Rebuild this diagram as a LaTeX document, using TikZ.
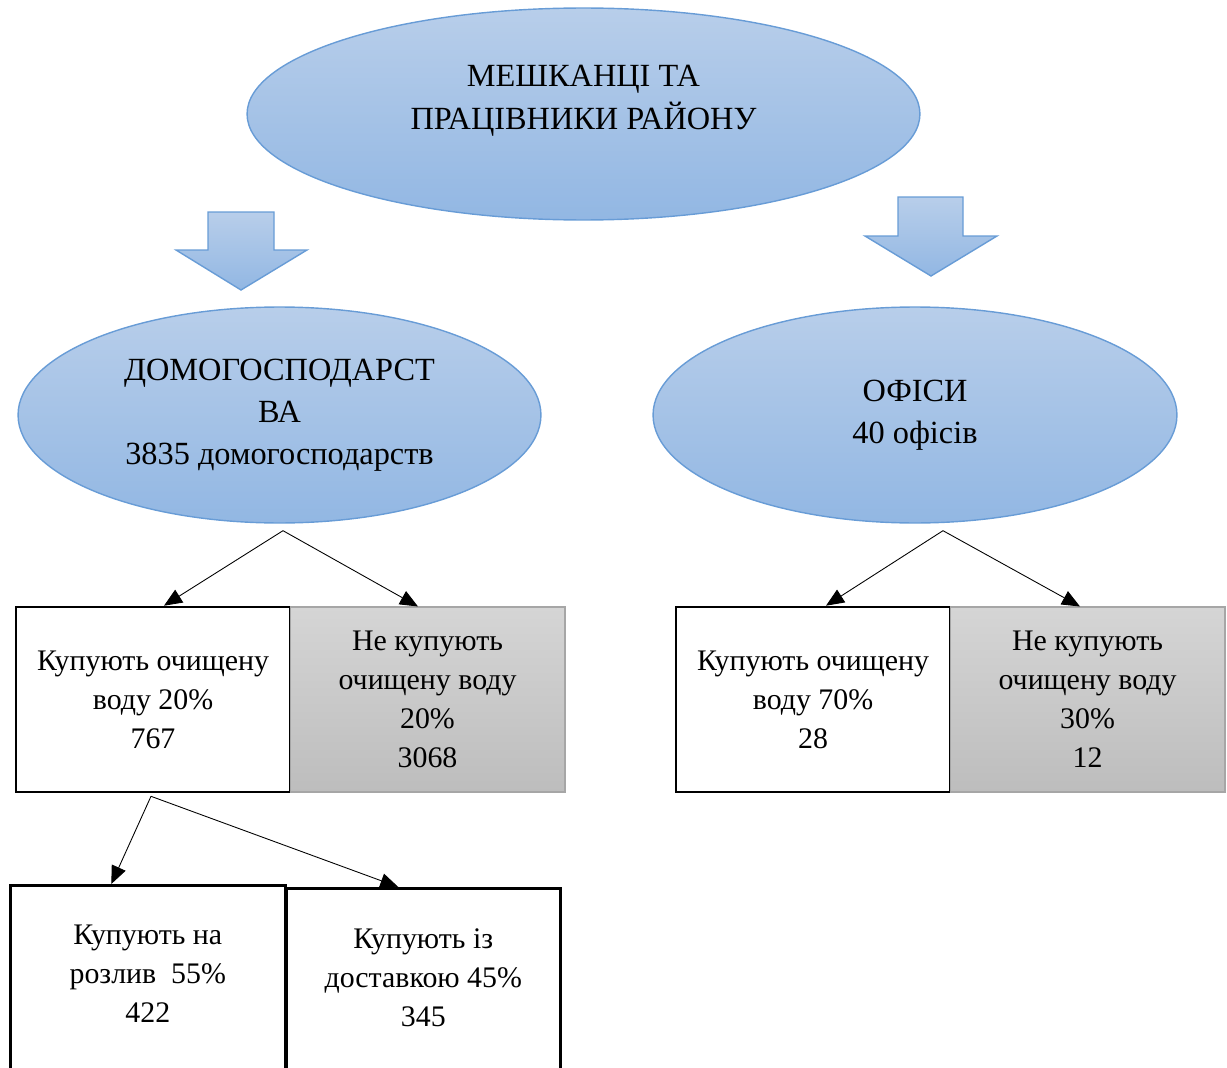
\documentclass[tikz,border=0pt]{standalone}
\usepackage{fontspec}
\setmainfont{Liberation Serif}
\usetikzlibrary{shapes.geometric,arrows.meta}
\definecolor{skytop}{RGB}{184,206,234}
\definecolor{skybot}{RGB}{146,183,227}
\definecolor{skyline}{RGB}{104,156,214}
\definecolor{greytop}{RGB}{213,213,213}
\definecolor{greybot}{RGB}{189,189,189}
\definecolor{greyline}{RGB}{166,166,166}

\begin{document}
\begin{tikzpicture}[x=0.02cm, y=-0.02cm,
    every node/.style={font=\fontsize{17}{22.2}\selectfont, align=center},
    oval/.style={ellipse, draw=skyline, line width=0.8pt, top color=skytop, bottom color=skybot, inner sep=0pt, font=\fontsize{18.4}{24}\selectfont},
    buybox/.style={rectangle, draw=black, line width=1.5pt, fill=white, minimum width=5.48cm, minimum height=3.7cm},
    nobox/.style={rectangle, draw=greyline, line width=0.6pt, top color=greytop, bottom color=greybot, minimum width=5.5cm, minimum height=3.7cm},
    blockarr/.style={draw=skyline, line width=0.8pt, top color=skytop, bottom color=skybot},
    arr/.style={line width=0.5pt, -{Triangle[length=0.36cm, width=0.3cm]}}]
    \path[use as bounding box, clip] (0,0) rectangle (1227,1068);

    \node[oval, minimum width=13.46cm, minimum height=4.24cm, text depth=18.9pt] (top) at (583.5,114) {МЕШКАНЦІ ТА\\ПРАЦІВНИКИ РАЙОНУ};
    \node[oval, minimum width=10.46cm, minimum height=4.32cm] (hh) at (279.5,415) {ДОМОГОСПОДАРСТ\\ВА\\3835 домогосподарств};
    \node[oval, minimum width=10.48cm, minimum height=4.32cm] (off) at (915,415) {ОФІСИ\\40 офісів};

    \draw[blockarr] (208,212) -- (274,212) -- (274,250) -- (307,250) -- (241,290) -- (176,250) -- (208,250) -- cycle;
    \draw[blockarr] (898,197) -- (963,197) -- (963,236) -- (997,236) -- (931,276) -- (865,236) -- (898,236) -- cycle;

    \node[buybox] (buy1) at (153,699.5) {Купують очищену\\воду 20\%\\767};
    \node[nobox] (nobuy1) at (427.5,699.5) {Не купують\\очищену воду\\20\%\\3068};
    \node[buybox] (buy2) at (813,699.5) {Купують очищену\\воду 70\%\\28};
    \node[nobox] (nobuy2) at (1087.5,699.5) {Не купують\\очищену воду\\30\%\\12};

    \node[buybox, anchor=north west, minimum width=5.5cm, minimum height=3.92cm, text depth=11.4pt] (tap) at (9,884) {Купують на\\розлив\ \ 55\%\\422};
    \node[buybox, anchor=north west, minimum height=3.86cm, text depth=8.4pt] (deliv) at (285,887) {Купують із\\доставкою 45\%\\345};

    \coordinate (hhfork) at ([xshift=0.07cm, yshift=-0.14cm]hh.south);
    \draw[arr] (hhfork) -- ([xshift=0.22cm]buy1.north);
    \draw[arr] (hhfork) -- ([xshift=-0.19cm]nobuy1.north);

    \coordinate (offfork) at ([xshift=0.56cm, yshift=-0.14cm]off.south);
    \draw[arr] (offfork) -- ([xshift=0.26cm]buy2.north);
    \draw[arr] (offfork) -- ([xshift=-0.15cm]nobuy2.north);

    \coordinate (buyfork) at ([xshift=-0.04cm, yshift=-0.06cm]buy1.south);
    \draw[arr] (buyfork) -- ([xshift=-0.73cm]tap.north);
    \draw[arr] (buyfork) -- ([xshift=-0.5cm]deliv.north);
  \end{tikzpicture}
\end{document}
